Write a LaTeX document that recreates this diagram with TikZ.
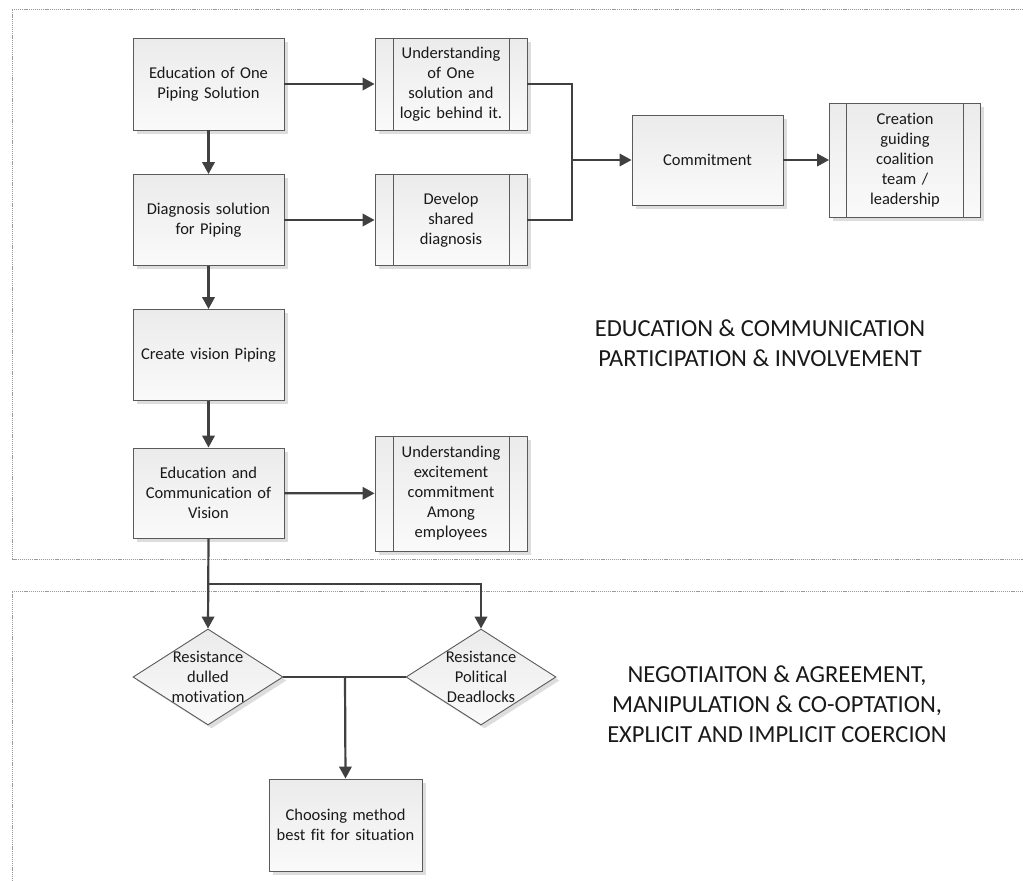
\documentclass[tikz,border=0pt]{standalone}
\usepackage{fontspec}
\setmainfont{Carlito}[Ligatures=NoCommon]
\usetikzlibrary{arrows.meta,shapes.geometric,shadows}

\definecolor{edge}{HTML}{5A5A5A}
\definecolor{conn}{HTML}{404040}
\definecolor{fillHi}{HTML}{EBEBEB}
\definecolor{fillLo}{HTML}{FAFAFA}
\definecolor{shade}{HTML}{D4D4D4}
\definecolor{frame}{HTML}{9A9A9A}

% boxes are a little darker at the top and fade lighter towards the bottom
\tikzset{
  boxtext/.style={font=\fontsize{16.5}{20}\selectfont, text=black!90, align=center},
  shadowed/.style={drop shadow={shadow xshift=3.5pt, shadow yshift=-3.5pt, fill=shade, opacity=0.8}},
  procbox/.style={boxtext, rectangle, draw=edge, line width=0.9pt,
    top color=fillHi, bottom color=fillLo, shadowed, inner sep=2pt,
    minimum width=151pt, minimum height=91pt, text width=145pt},
  subproc/.style={procbox, minimum width=152pt, text width=112pt,
    path picture={
      \draw[edge, line width=0.9pt]
        ([xshift=18pt]path picture bounding box.north west) --
        ([xshift=18pt]path picture bounding box.south west)
        ([xshift=-18pt]path picture bounding box.north east) --
        ([xshift=-18pt]path picture bounding box.south east);}},
  decide/.style={diamond, draw=edge, line width=0.9pt, top color=fillHi,
    bottom color=fillLo, shadowed, inner sep=0pt, aspect=1.56,
    minimum width=150pt, minimum height=96pt},
  ln/.style={draw=conn, line width=2.2pt},
  arr/.style={ln, -{Triangle[length=12pt,width=12.5pt]}},
  region/.style={draw=frame, line width=0.9pt, dash pattern=on 1.2pt off 0.9pt},
  caption/.style={font=\fontsize{24.5}{30}\selectfont, text=black!90, align=center}
}

\begin{document}
\begin{tikzpicture}[x=1pt,y=-1pt]
\useasboundingbox (0,0) rectangle (1023,881);

% dotted regions
\draw[region] (1023,9) -- (12,9) -- (12,559) -- (1023,559);
\draw[region] (1023,591) -- (12,591) -- (12,881);

% process steps
\node[procbox, minimum height=92pt] (A) at (208.5,84) {Education of One\\Piping Solution};
\node[subproc, minimum height=92pt] (B) at (451,84) {Understanding\\of One\\solution and\\logic behind it.};
\node[procbox] (C) at (208.5,220) {Diagnosis solution\\for Piping};
\node[subproc] (D) at (451,220) {Develop\\shared\\diagnosis};
\node[procbox, minimum height=90pt] (E) at (707.5,160) {Commitment};
\node[subproc, minimum width=151pt, minimum height=114pt, text width=110pt,
  path picture={
      \draw[edge, line width=0.9pt]
        ([xshift=17pt]path picture bounding box.north west) --
        ([xshift=17pt]path picture bounding box.south west)
        ([xshift=-17pt]path picture bounding box.north east) --
        ([xshift=-17pt]path picture bounding box.south east);}]
  (F) at (905,160) {Creation\\guiding\\coalition\\team /\\leadership};
\node[procbox] (G) at (208.5,355) {Create vision Piping};
\node[procbox, minimum height=90pt] (H) at (208.5,493) {Education and\\Communication of\\Vision};
\node[subproc, minimum height=115pt] (I) at (451,493.5) {Understanding\\excitement\\commitment\\Among\\employees};

% decisions
\node[decide] (J) at (208,677) {};
\node[boxtext] (Jt) at (J) {Resistance\\dulled\\motivation};
\node[decide] (K) at (481,677) {};
\node[boxtext] (Kt) at (K) {Resistance\\Political\\Deadlocks};
\node[procbox, minimum width=153pt, minimum height=92pt] (L) at (345.5,825) {Choosing method\\best fit for situation};

% region captions
\node[caption] (cap1) at (760,343) {EDUCATION \& COMMUNICATION\\PARTICIPATION \& INVOLVEMENT};
\node[caption] (cap2) at (777,704) {NEGOTIAITON \& AGREEMENT,\\MANIPULATION \& CO-OPTATION,\\EXPLICIT AND IMPLICIT COERCION};

% junction points
\coordinate (j1) at (572,160);
\coordinate (j2) at (481,584);
\coordinate (j3) at (345,677);

% connectors
\draw[arr] (A) -- (B);
\draw[arr] (A) -- (C);
\draw[arr] (C) -- (D);
\draw[ln] (B.east) -| (j1);
\draw[ln] (D.east) -| (j1);
\draw[arr] (j1) -- (E.west);
\draw[arr] (E) -- (F);
\draw[arr] (C) -- (G);
\draw[arr] (G) -- (H);
\draw[arr] (H) -- (I);
\draw[arr] (H.south) -- (J.north);
\draw[arr] (H.south |- j2) -| (K.north);
\draw[ln] (J.east) -- (K.west);
\draw[arr] (j3) -- (L.north);
\end{tikzpicture}
\end{document}
